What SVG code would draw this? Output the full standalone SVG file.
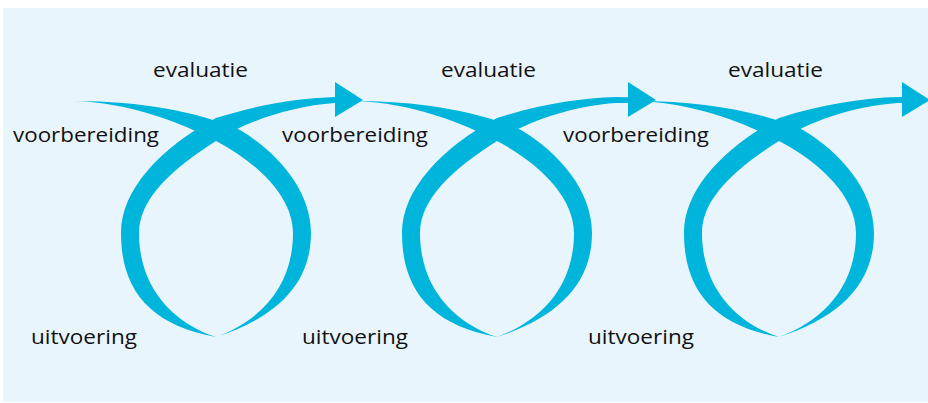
<svg xmlns="http://www.w3.org/2000/svg" width="928" height="403" viewBox="0 0 928 403">
<style>
.rib{fill:#00B5DB}
.lbl{font-family:"Open Sans","Noto Sans","DejaVu Sans",sans-serif;font-size:20px;fill:#111}
</style>
<defs>
<path id="ribA" d="M75,101 C140,101 200,112 240,130 C277,152 311,190 311,233 C311,285 275,318 216,337 C262,320 293,285 293,233 C293,197 258,163 216,141 C180,122 130,103 75,101 Z"/>
<path id="ribB" d="M216,337 C150,325 121,290 121,233 C121,190 160,148 216,118 C260,104 300,98 335,97 L337,97 L337,103 L335,103 C290,106 245,122 216,141 C170,170 139,200 139,233 C139,285 170,322 216,337 Z"/>
</defs>
<rect x="3" y="8" width="930" height="394" fill="#E8F5FD"/>
<g id="connectors">
<g id="loop1">
<use href="#ribA" class="rib"/>
<use href="#ribB" class="rib"/>
<polygon class="rib" points="335,82 363,100 335,117"/>
</g>
<g id="loop2" transform="translate(281,0)">
<use href="#ribA" class="rib"/>
<use href="#ribB" class="rib"/>
<polygon class="rib" points="335,97 348,97.2 348,103 335,103"/>
<polygon class="rib" points="347,82 375,100 347,117"/>
</g>
<g id="loop3" transform="translate(563,0)">
<use href="#ribA" class="rib"/>
<use href="#ribB" class="rib"/>
<polygon class="rib" points="335,97 340,97 340,103 335,103"/>
<polygon class="rib" points="339,82 367,100 339,117"/>
</g>
</g>
<g id="n-eval1"><text class="lbl" x="153" y="77" textLength="95" lengthAdjust="spacingAndGlyphs">evaluatie</text></g>
<g id="n-voor1"><text class="lbl" x="13" y="142" textLength="146" lengthAdjust="spacingAndGlyphs">voorbereiding</text></g>
<g id="n-uit1"><text class="lbl" x="31" y="344" textLength="106" lengthAdjust="spacingAndGlyphs">uitvoering</text></g>
<g id="n-eval2"><text class="lbl" x="441" y="77" textLength="95" lengthAdjust="spacingAndGlyphs">evaluatie</text></g>
<g id="n-voor2"><text class="lbl" x="282" y="142" textLength="146" lengthAdjust="spacingAndGlyphs">voorbereiding</text></g>
<g id="n-uit2"><text class="lbl" x="302" y="344" textLength="106" lengthAdjust="spacingAndGlyphs">uitvoering</text></g>
<g id="n-eval3"><text class="lbl" x="728" y="77" textLength="95" lengthAdjust="spacingAndGlyphs">evaluatie</text></g>
<g id="n-voor3"><text class="lbl" x="563" y="142" textLength="146" lengthAdjust="spacingAndGlyphs">voorbereiding</text></g>
<g id="n-uit3"><text class="lbl" x="588" y="344" textLength="106" lengthAdjust="spacingAndGlyphs">uitvoering</text></g>
</svg>
